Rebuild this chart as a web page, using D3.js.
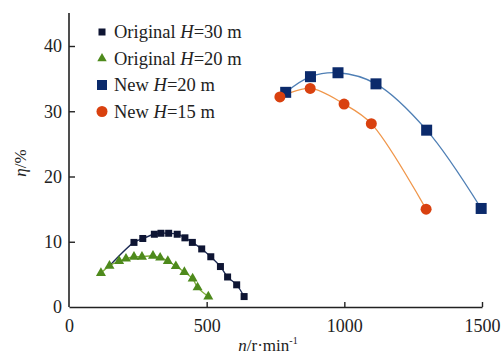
<!DOCTYPE html>
<html>
<head>
<meta charset="utf-8">
<script src="https://cdn.jsdelivr.net/npm/d3@7"></script>
<style>
  body { margin: 0; background: #fff; }
  svg { display: block; }
</style>
</head>
<body>
<div id="chart"></div>
<script>
// data
const origH30N   = [236, 268, 310, 334, 362, 393, 421, 448, 482, 515, 550, 576, 609, 636]
const origH30Eta = [9.9, 10.5, 11.15, 11.3, 11.3, 11.15, 10.6, 9.9, 8.9, 7.7, 6.2, 4.6, 3.4, 1.6]
// fitted curve starts before the first measured point
const origH30FitStart = [147, 6.3]

const origH20N   = [116, 147, 182, 207, 236, 265, 305, 331, 359, 388, 419, 449, 467, 506]
const origH20Eta = [5.2, 6.3, 7.05, 7.4, 7.7, 7.7, 7.85, 7.55, 7.05, 6.25, 5.35, 4.35, 3.0, 1.6]

const newH20N   = [787, 877, 977, 1115, 1299, 1497]
const newH20Eta = [32.9, 35.3, 35.9, 34.2, 27.1, 15.1]

const newH15N   = [766, 876, 999, 1098, 1297]
const newH15Eta = [32.2, 33.5, 31.1, 28.1, 15.0]

const xTicks = [0, 500, 1000, 1500]
const yTicks = [0, 10, 20, 30, 40]

const legendLabels = [
  ["Original ", "H", "=30 m"],
  ["Original ", "H", "=20 m"],
  ["New ", "H", "=20 m"],
  ["New ", "H", "=15 m"]
]

const w = 502, h = 361
const font = "'Liberation Serif', 'Times New Roman', serif"

const svg = d3.select("#chart").append("svg")
  .attr("width", w)
  .attr("height", h)

const x = d3.scaleLinear().domain([0, 1500]).range([69, 482])
const y = d3.scaleLinear().domain([0, 40]).range([307, 46])

const zip = (ns, etas) => ns.map((n, i) => [n, etas[i]])

const series = [
  { pts: zip(origH30N, origH30Eta), line: [origH30FitStart].concat(zip(origH30N, origH30Eta)),
    stroke: "#1c2a55", fill: "#0e1533", shape: "square", size: 7 },
  { pts: zip(origH20N, origH20Eta), line: zip(origH20N, origH20Eta),
    stroke: "#7fae3a", fill: "#4e8a1c", shape: "triangle", size: 8.5 },
  { pts: zip(newH20N, newH20Eta), line: zip(newH20N, newH20Eta),
    stroke: "#4f7fb5", fill: "#0b2a6b", shape: "square", size: 11 },
  { pts: zip(newH15N, newH15Eta), line: zip(newH15N, newH15Eta),
    stroke: "#f0964a", fill: "#d9410f", shape: "circle", size: 11 }
]

// axes
const axisG = svg.append("g").attr("class", "axes")

const axisBottom = axisG.append("g")
  .attr("transform", `translate(0, ${y(0)})`)
  .call(d3.axisBottom(x).tickValues(xTicks).tickFormat(d3.format("d"))
    .tickSizeInner(-5).tickSizeOuter(0).tickPadding(12))

const axisLeft = axisG.append("g")
  .attr("transform", `translate(${x(0)}, 0)`)
  .call(d3.axisLeft(y).tickValues(yTicks).tickSizeInner(-6).tickSizeOuter(0).tickPadding(7))

// extend the y axis line up past 40
axisLeft.select(".domain").attr("d", `M0,${y(0)}V13`)

;[axisBottom, axisLeft].forEach(axis => {
  axis.selectAll("path").attr("stroke", "#222").attr("stroke-width", 1.6)
  axis.selectAll("line").attr("stroke", "#222").attr("stroke-width", 1.4)
  axis.selectAll("text")
    .attr("fill", "#222")
    .style("font-size", "18px")
    .style("font-family", font)
})
axisLeft.selectAll(".tick").filter(d => d === 0).select("line").remove()
axisBottom.selectAll(".tick").filter(d => d === 0).select("line").remove()

// axis titles
svg.append("text")
  .attr("transform", `translate(26, 163) rotate(-90)`)
  .attr("text-anchor", "middle")
  .style("font-family", font)
  .style("font-size", "17px")
  .attr("fill", "#222")
  .html(`<tspan font-style="italic">η</tspan>/%`)

const xTitle = svg.append("text")
  .attr("x", 268)
  .attr("y", 351)
  .attr("text-anchor", "middle")
  .style("font-family", font)
  .style("font-size", "17px")
  .attr("fill", "#222")
xTitle.append("tspan").attr("font-style", "italic").text("n")
xTitle.append("tspan").text("/r·min")
xTitle.append("tspan").attr("dy", -7).style("font-size", "10px").text("-1")

// curves
const line = d3.line()
  .x(d => x(d[0]))
  .y(d => y(d[1]))
  .curve(d3.curveCatmullRom.alpha(0.5))

const paths = svg.append("g").attr("class", "paths")
series.forEach(s => {
  paths.append("path")
    .attr("d", line(s.line))
    .attr("fill", "none")
    .attr("stroke", s.stroke)
    .attr("stroke-width", 1.3)
})

// markers
function drawMarker(g, shape, size, fill, cx, cy) {
  if (shape === "square") {
    g.append("rect")
      .attr("x", cx - size / 2).attr("y", cy - size / 2)
      .attr("width", size).attr("height", size)
      .attr("fill", fill)
  } else if (shape === "circle") {
    g.append("circle")
      .attr("cx", cx).attr("cy", cy).attr("r", size / 2)
      .attr("fill", fill)
  } else {
    g.append("path")
      .attr("d", d3.symbol(d3.symbolTriangle, size * size * 0.6)())
      .attr("transform", `translate(${cx}, ${cy})`)
      .attr("fill", fill)
  }
}

const markers = svg.append("g").attr("class", "markers")
series.forEach(s => {
  s.pts.forEach(p => drawMarker(markers, s.shape, s.size, s.fill, x(p[0]), y(p[1])))
})

// legend
const legend = svg.append("g").attr("class", "legend")
const legendSizes = [7, 8, 10, 11]
legendLabels.forEach((parts, i) => {
  const ly = 32 + i * 26.5
  const s = series[i]
  drawMarker(legend, s.shape, legendSizes[i], s.fill, 102, ly)
  const t = legend.append("text")
    .attr("x", 114)
    .attr("y", ly + 6)
    .style("font-family", font)
    .style("font-size", "18.5px")
    .attr("fill", "#222")
  t.append("tspan").text(parts[0])
  t.append("tspan").attr("font-style", "italic").text(parts[1])
  t.append("tspan").text(parts[2])
})
</script>
</body>
</html>
